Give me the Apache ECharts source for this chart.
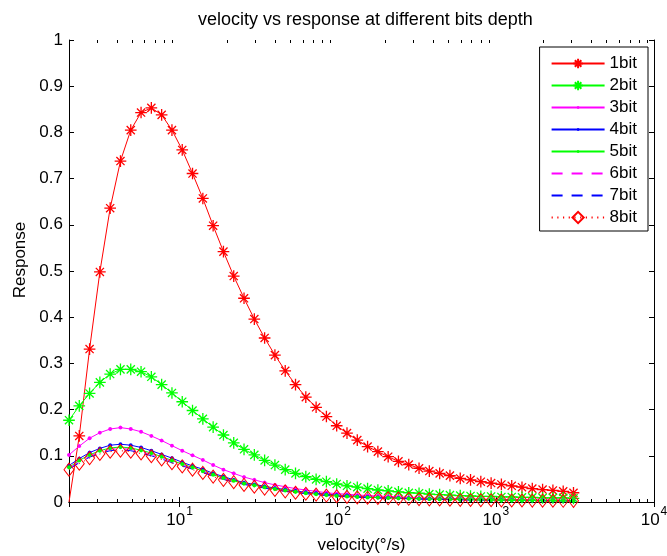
<!DOCTYPE html>
<html><head><meta charset="utf-8">
<script src="https://cdn.jsdelivr.net/npm/echarts@6/dist/echarts.min.js"></script>
<style>html,body{margin:0;padding:0;background:#fff}#c{width:667px;height:556px}</style>
</head><body><div id="c"></div>
<script>
const velocity = [2.000,2.323,2.699,3.135,3.642,4.231,4.915,5.710,6.633,7.706,8.954,10.40,12.08,14.04,16.31,18.95,22.01,25.57,29.71,34.51,40.09,46.58,54.11,62.86,73.03,84.84,98.54,114.5,133.0,154.5,179.5,208.5,242.2,281.4,326.9,379.7,441.2,512.5,595.4,691.7,803.5,933.4,1084,1260,1463,1700,1975,2295,2666,3097];

const bit1 = [0,0.143,0.331,0.498,0.636,0.738,0.805,0.843,0.853,0.838,0.805,0.762,0.711,0.657,0.598,0.542,0.489,0.441,0.396,0.355,0.318,0.284,0.254,0.227,0.205,0.185,0.165,0.149,0.134,0.120,0.109,0.098,0.088,0.081,0.073,0.067,0.062,0.057,0.051,0.048,0.044,0.041,0.038,0.035,0.032,0.029,0.027,0.025,0.023,0.020];
const bit2 = [0.177,0.208,0.235,0.259,0.277,0.287,0.287,0.282,0.271,0.254,0.236,0.217,0.198,0.180,0.162,0.145,0.128,0.114,0.102,0.090,0.080,0.070,0.062,0.055,0.049,0.044,0.039,0.035,0.032,0.029,0.026,0.024,0.022,0.020,0.019,0.017,0.016,0.015,0.014,0.013,0.012,0.012,0.011,0.011,0.010,0.010,0.009,0.009,0.009,0.008];
const bit3 = [0.102,0.121,0.138,0.150,0.158,0.161,0.158,0.152,0.143,0.133,0.122,0.111,0.101,0.091,0.080,0.070,0.062,0.054,0.048,0.042,0.037,0.033,0.029,0.026,0.023,0.020,0.018,0.017,0.015,0.014,0.013,0.012,0.011,0.010,0.009,0.0085,0.008,0.0075,0.007,0.0065,0.006,0.0056,0.0053,0.005,0.0047,0.0044,0.0042,0.004,0.0038,0.0036];
const bit4 = [0.079,0.094,0.107,0.116,0.123,0.125,0.123,0.118,0.111,0.103,0.095,0.086,0.078,0.071,0.062,0.055,0.048,0.042,0.038,0.034,0.030,0.027,0.024,0.021,0.019,0.017,0.015,0.014,0.012,0.011,0.010,0.0095,0.0087,0.008,0.0072,0.0068,0.0064,0.006,0.0055,0.0051,0.0047,0.0044,0.0041,0.0039,0.0036,0.0034,0.0032,0.0031,0.0029,0.0028];
const bit5 = [0.075,0.090,0.102,0.111,0.117,0.119,0.117,0.112,0.106,0.098,0.090,0.082,0.075,0.067,0.059,0.052,0.046,0.040,0.036,0.032,0.028,0.025,0.022,0.019,0.017,0.015,0.013,0.012,0.011,0.010,0.0095,0.0088,0.008,0.0074,0.0068,0.0063,0.0059,0.0055,0.0051,0.0048,0.0044,0.0041,0.0039,0.0037,0.0035,0.0033,0.0031,0.003,0.0028,0.0027];
const bit6 = [0.073,0.087,0.099,0.108,0.114,0.116,0.114,0.109,0.103,0.096,0.088,0.080,0.073,0.066,0.058,0.051,0.045,0.039,0.035,0.031,0.027,0.024,0.021,0.019,0.017,0.015,0.013,0.0118,0.0106,0.0097,0.0091,0.0085,0.0078,0.0072,0.0066,0.0061,0.0057,0.0053,0.0049,0.0046,0.0043,0.004,0.0038,0.0036,0.0034,0.0032,0.003,0.0029,0.0027,0.0026];
const bit7 = [0.071,0.085,0.097,0.105,0.111,0.113,0.111,0.106,0.100,0.093,0.085,0.078,0.071,0.064,0.056,0.049,0.043,0.038,0.034,0.030,0.026,0.023,0.020,0.018,0.016,0.014,0.0126,0.0114,0.0103,0.0094,0.0088,0.0082,0.0076,0.007,0.0064,0.0059,0.0055,0.0051,0.0048,0.0045,0.0042,0.0039,0.0037,0.0035,0.0033,0.0031,0.0029,0.0028,0.0026,0.0025];
const bit8 = [0.070,0.083,0.095,0.104,0.109,0.111,0.109,0.105,0.099,0.092,0.084,0.077,0.070,0.063,0.055,0.048,0.043,0.037,0.033,0.029,0.026,0.023,0.020,0.018,0.016,0.014,0.0124,0.0112,0.0101,0.0093,0.0086,0.008,0.0074,0.0069,0.0063,0.0058,0.0054,0.005,0.0047,0.0044,0.0041,0.0039,0.0036,0.0034,0.0032,0.003,0.0029,0.0027,0.0026,0.0025];

const seriesNames = ['1bit','2bit','3bit','4bit','5bit','6bit','7bit','8bit'];
const xMinorTicks = [3,4,5,6,7,8,9,20,30,40,50,60,70,80,90,200,300,400,500,600,700,800,900,2000,3000,4000,5000,6000,7000,8000,9000];
const titleText = 'velocity vs response at different bits depth';
const xName = 'velocity(\u00b0/s)';
const yName = 'Response';

const FONT = 'Liberation Sans, Arial, Helvetica, sans-serif';
const ASTERISK = 'path://M-12,-12M12,12M0,-10L0,10M-10,0L10,0M-7,-7L7,7M-7,7L7,-7';
const DOT = 'path://M-10,-10M10,10M-2.5,0L-1.77,-1.77L0,-2.5L1.77,-1.77L2.5,0L1.77,1.77L0,2.5L-1.77,1.77Z';

const values = [bit1,bit2,bit3,bit4,bit5,bit6,bit7,bit8];
const styles = [
  {color:'#ff0000', symbol:ASTERISK, size:14, line:'solid', hollow:true, show:true, bw:1.3},
  {color:'#00ff00', symbol:ASTERISK, size:14, line:'solid', hollow:true, show:true, bw:1.3},
  {color:'#ff00ff', symbol:DOT, size:16, line:'solid', show:true},
  {color:'#0000ff', symbol:DOT, size:16, line:'solid', show:true},
  {color:'#00ff00', symbol:DOT, size:17, line:'solid', show:true},
  {color:'#ff00ff', symbol:DOT, size:1, line:[11,9], hollow:true, invisible:true, show:false},
  {color:'#0000ff', symbol:DOT, size:1, line:[11,9], hollow:true, invisible:true, show:false},
  {color:'#ff0000', symbol:'diamond', size:[10,13], line:[1.2,4.5], hollow:true, show:true, bw:1}
];

const series = values.map((vals, i) => {
  const st = styles[i];
  const data = vals.map((v, k) => {
    if (i === 0 && k === 0) return {value:[velocity[k], v], symbol:'none'};
    return [velocity[k], v];
  });
  return {
    name: seriesNames[i],
    type: 'line',
    data: data,
    xAxisIndex: 0, yAxisIndex: 0,
    symbol: st.symbol,
    symbolSize: st.size,
    showSymbol: st.show,
    showAllSymbol: true,
    clip: true,
    lineStyle: {color: st.color, width: 1, type: st.line},
    itemStyle: st.hollow ? {color:'rgba(255,255,255,0)', borderColor: st.invisible ? 'rgba(255,255,255,0)' : st.color, borderWidth: st.invisible ? 0 : st.bw}
                         : {color: st.color, borderWidth: 0},
    emphasis: {disabled: true},
    animation: false
  };
});

// minor ticks of the log axis (bottom and top), placed through the axis scale
series.push({
  type: 'custom',
  silent: true,
  clip: false,
  xAxisIndex: 0, yAxisIndex: 0,
  data: xMinorTicks.map(v => [v]),
  renderItem: function (params, api) {
    const v = api.value(0);
    const b = api.coord([v, 0]);
    const t = api.coord([v, 1]);
    const x = Math.round(b[0]) + 0.5;
    return {
      type: 'group',
      children: [
        {type: 'line', shape: {x1: x, y1: b[1], x2: x, y2: b[1] - 3}, style: {stroke: '#000', lineWidth: 1}},
        {type: 'line', shape: {x1: x, y1: t[1], x2: x, y2: t[1] + 3}, style: {stroke: '#000', lineWidth: 1}}
      ]
    };
  },
  animation: false,
  z: 5
});

const axisLineStyle = {color:'#000', width:1};
const logBase = {type:'log', min:2, max:10000, splitLine:{show:false}, minorTick:{show:false}};

const option = {
  animation: false,
  backgroundColor: '#fff',
  textStyle: {fontFamily: FONT},
  title: {
    text: titleText, left: 193, top: 6,
    textStyle: {fontFamily: FONT, fontSize: 18, fontWeight: 'normal', color: '#000'}
  },
  legend: {
    data: seriesNames,
    orient: 'vertical',
    right: 19, top: 47,
    padding: [8, 11, 5, 11],
    itemGap: 5,
    itemWidth: 53, itemHeight: 14,
    borderColor: '#000', borderWidth: 1, borderRadius: 0,
    backgroundColor: '#fff',
    textStyle: {fontFamily: FONT, fontSize: 17, color: '#000'},
    selectedMode: false
  },
  grid: {left: 69, right: 13, top: 40, bottom: 54, containLabel: false, outerBoundsMode: 'none'},
  xAxis: [
    Object.assign({}, logBase, {
      position: 'bottom',
      axisLine: {show: true, lineStyle: axisLineStyle},
      axisTick: {show: true, inside: true, length: 5, lineStyle: axisLineStyle},
      axisLabel: {
        showMinLabel: false, margin: 4, color: '#000',
        formatter: function (v) {
          const e = Math.round(Math.log10(v));
          return '{b|10}{s|' + e + '}';
        },
        rich: {
          b: {fontFamily: FONT, fontSize: 17, color: '#000', verticalAlign: 'bottom', padding: [6, 0, 0, 0]},
          s: {fontFamily: FONT, fontSize: 12, color: '#000', verticalAlign: 'top', padding: [0, 0, 0, 1]}
        }
      },
      name: xName, nameLocation: 'middle', nameGap: 35,
      nameTextStyle: {fontFamily: FONT, fontSize: 17, color: '#000'}
    }),
    Object.assign({}, logBase, {
      position: 'top',
      axisLine: {show: true, lineStyle: axisLineStyle},
      axisTick: {show: true, inside: true, length: 5, lineStyle: axisLineStyle},
      axisLabel: {show: false}
    })
  ],
  yAxis: [
    {
      type: 'value', min: 0, max: 1, interval: 0.1, position: 'left',
      splitLine: {show: false},
      axisLine: {show: true, lineStyle: axisLineStyle},
      axisTick: {show: true, inside: true, length: 5, lineStyle: axisLineStyle},
      axisLabel: {color: '#000', fontFamily: FONT, fontSize: 17, margin: 6},
      name: yName, nameLocation: 'middle', nameGap: 36, nameRotate: 90,
      nameTextStyle: {fontFamily: FONT, fontSize: 17, color: '#000', padding: [0, 0, 0, 22]}
    },
    {
      type: 'value', min: 0, max: 1, interval: 0.1, position: 'right',
      splitLine: {show: false},
      axisLine: {show: true, lineStyle: axisLineStyle},
      axisTick: {show: true, inside: true, length: 5, lineStyle: axisLineStyle},
      axisLabel: {show: false}
    }
  ],
  series: series
};

const chart = echarts.init(document.getElementById('c'), null, {renderer: 'canvas'});
chart.setOption(option);
</script>
</body></html>
